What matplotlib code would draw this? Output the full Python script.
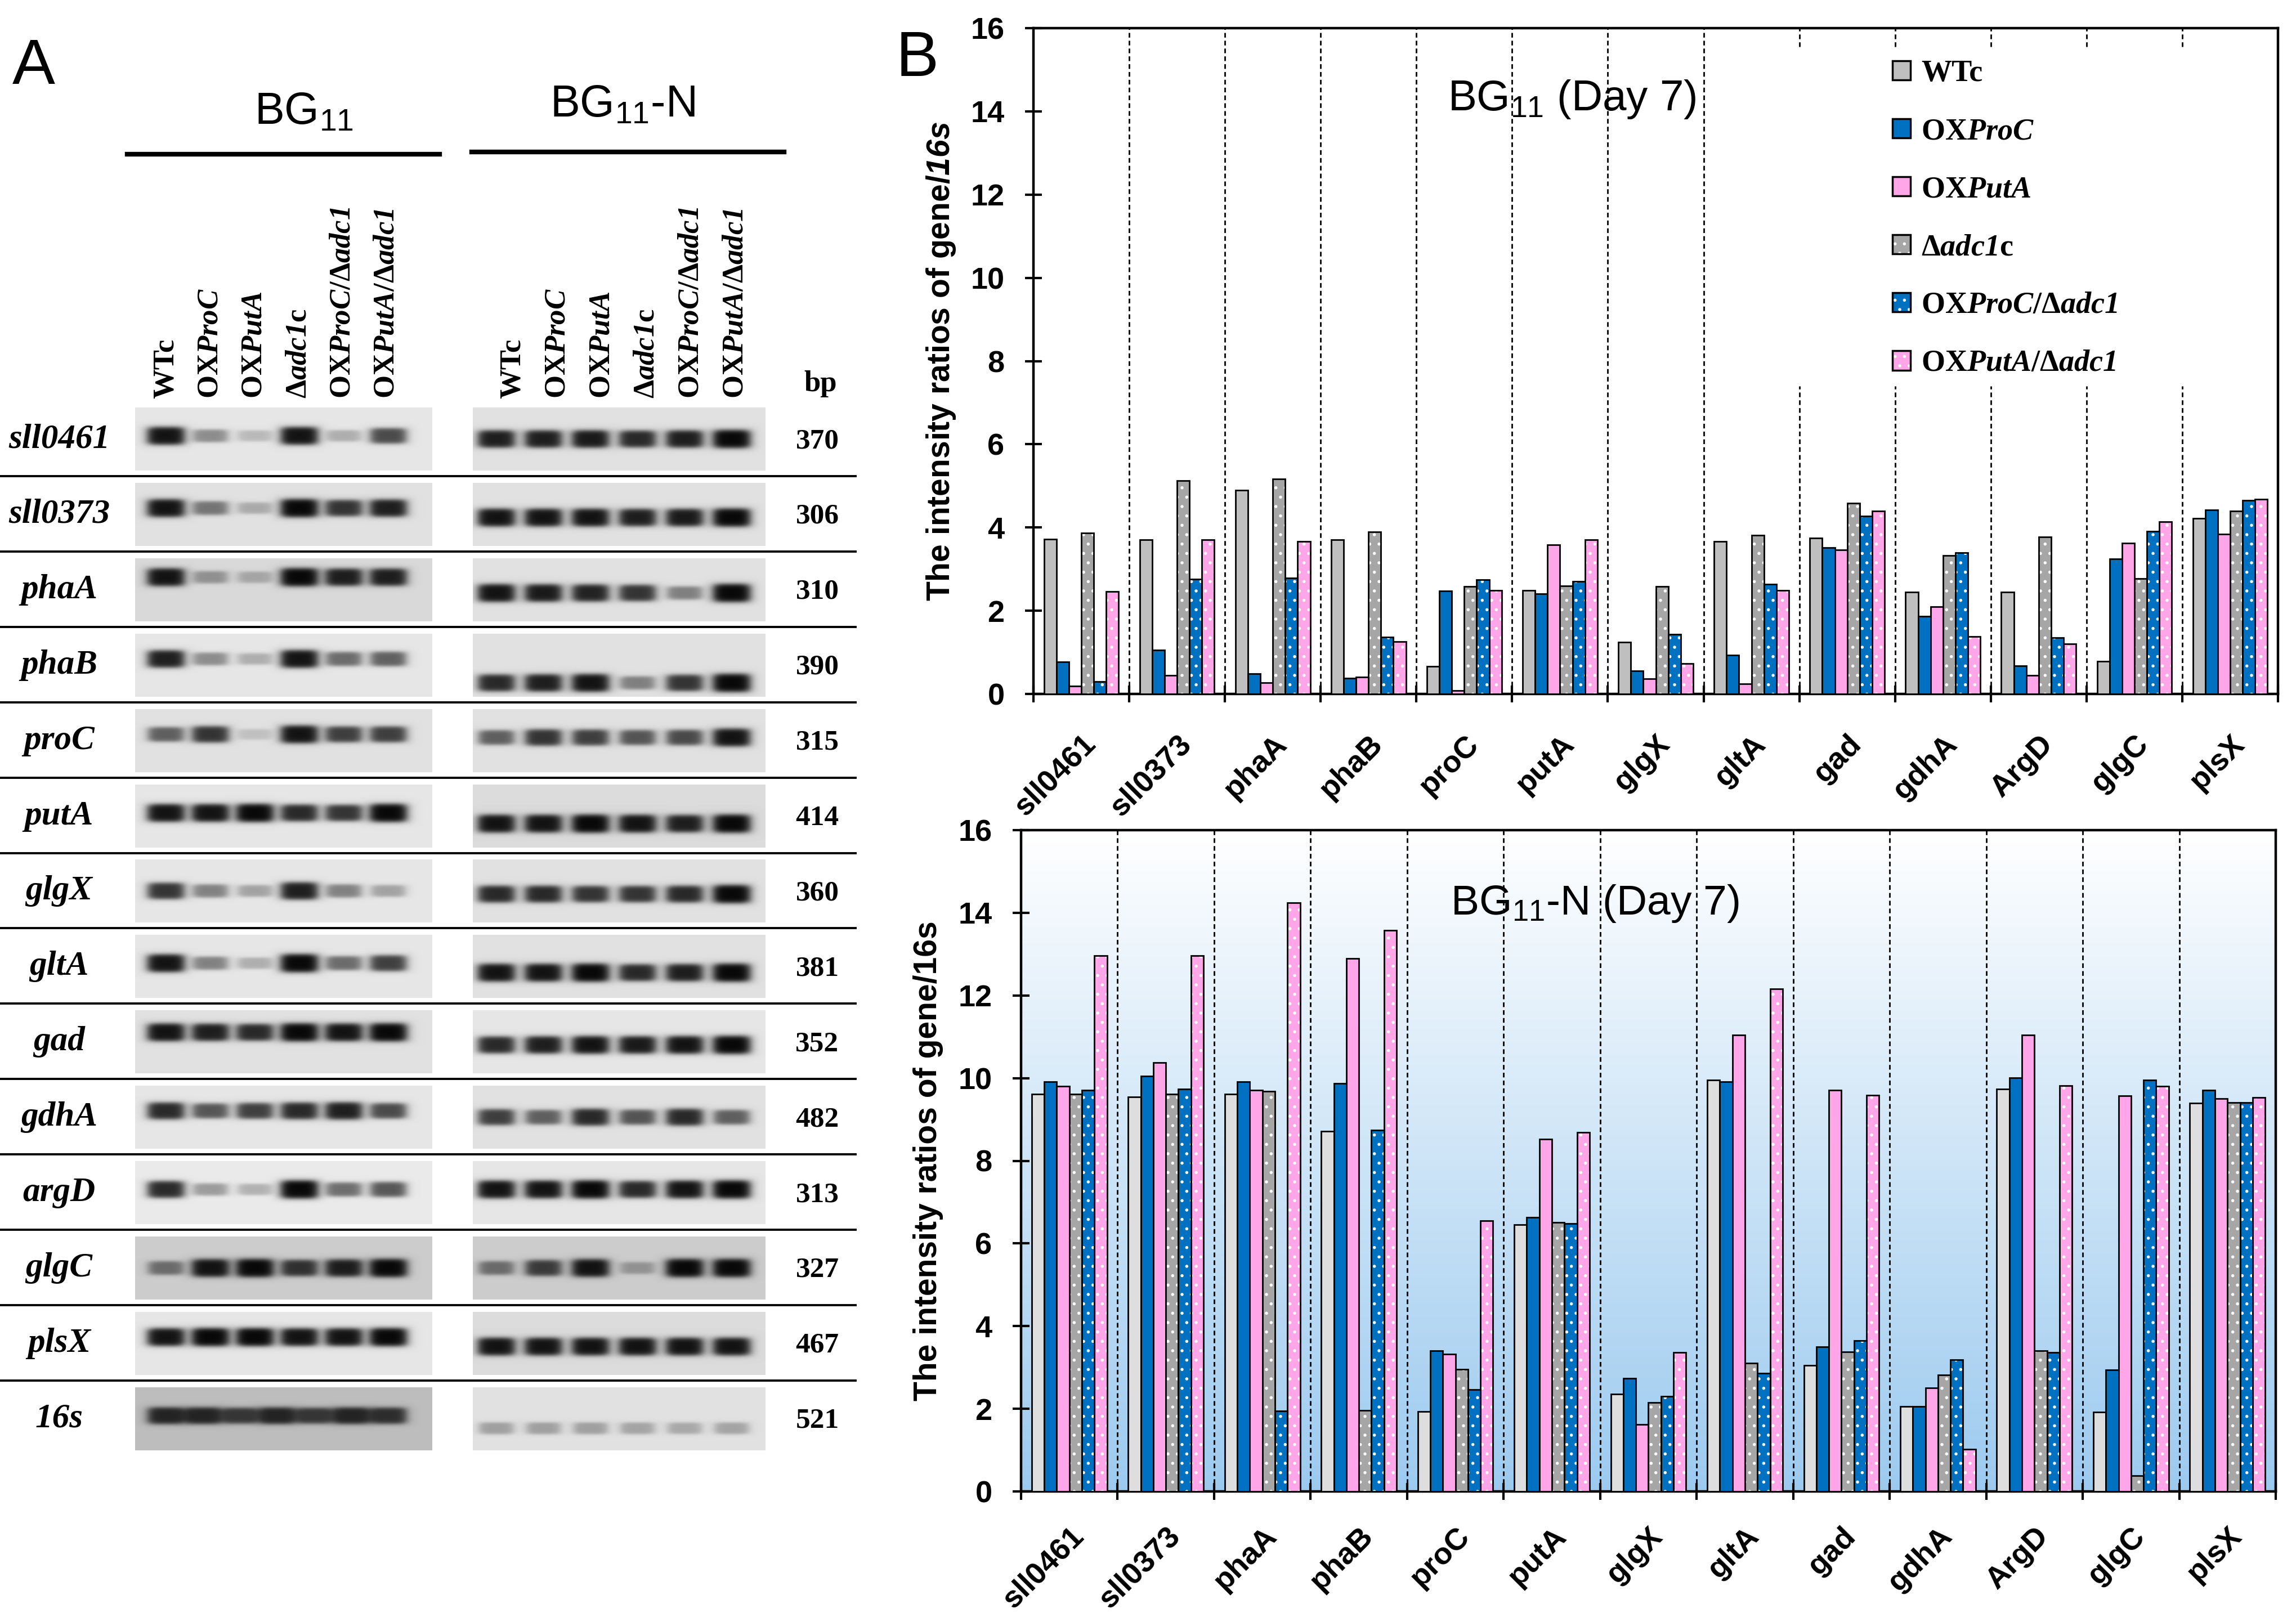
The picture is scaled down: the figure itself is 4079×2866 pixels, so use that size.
import numpy as np
import matplotlib
matplotlib.use('Agg')
import matplotlib.pyplot as plt
from matplotlib.patches import Patch
from matplotlib.legend_handler import HandlerTuple
from matplotlib.colors import LinearSegmentedColormap

plt.rcParams['font.family'] = 'Liberation Sans'
plt.rcParams['mathtext.fontset'] = 'custom'
plt.rcParams['mathtext.rm'] = 'Liberation Sans'
plt.rcParams['mathtext.it'] = 'Liberation Sans:italic'
plt.rcParams['mathtext.bf'] = 'Liberation Serif:bold'
plt.rcParams['mathtext.bfit'] = 'Liberation Serif:italic:bold'
plt.rcParams['mathtext.sf'] = 'Liberation Sans:italic:bold'
plt.rcParams['hatch.linewidth'] = 1.5

# ---------------- data ----------------
genes = ['sll0461', 'sll0373', 'phaA', 'phaB', 'proC', 'putA', 'glgX',
         'gltA', 'gad', 'gdhA', 'ArgD', 'glgC', 'plsX']
strain_labels = ['WTc', 'OX$\\mathbfit{ProC}$', 'OX$\\mathbfit{PutA}$',
                 '$\\mathbf{Δ}\\mathbfit{adc1}$c',
                 'OX$\\mathbfit{ProC}$/$\\mathbf{Δ}\\mathbfit{adc1}$',
                 'OX$\\mathbfit{PutA}$/$\\mathbf{Δ}\\mathbfit{adc1}$']

# BG11 (Day 7)
bg_wtc = [3.72, 3.70, 4.90, 3.70, 0.66, 2.49, 1.25, 3.67, 3.75, 2.45, 2.45, 0.79, 4.22]
bg_oxproc = [0.77, 1.05, 0.49, 0.38, 2.47, 2.41, 0.56, 0.93, 3.52, 1.86, 0.67, 3.24, 4.42]
bg_oxputa = [0.19, 0.45, 0.27, 0.41, 0.08, 3.58, 0.37, 0.24, 3.46, 2.09, 0.45, 3.63, 3.84]
bg_dadc1 = [3.87, 5.12, 5.16, 3.89, 2.58, 2.60, 2.58, 3.82, 4.59, 3.33, 3.78, 2.77, 4.39]
bg_proc_dadc1 = [0.30, 2.76, 2.79, 1.36, 2.74, 2.71, 1.43, 2.64, 4.27, 3.39, 1.35, 3.91, 4.65]
bg_puta_dadc1 = [2.46, 3.70, 3.67, 1.26, 2.49, 3.70, 0.73, 2.49, 4.39, 1.38, 1.21, 4.14, 4.68]

# BG11-N (Day 7)
n_wtc = [9.61, 9.54, 9.61, 8.72, 1.93, 6.45, 2.35, 9.95, 3.05, 2.06, 9.73, 1.92, 9.40]
n_oxproc = [9.91, 10.05, 9.92, 9.87, 3.40, 6.63, 2.74, 9.92, 3.50, 2.06, 10.01, 2.94, 9.71]
n_oxputa = [9.80, 10.38, 9.71, 12.89, 3.32, 8.52, 1.62, 11.05, 9.71, 2.51, 11.05, 9.57, 9.50]
n_dadc1 = [9.61, 9.61, 9.68, 1.96, 2.95, 6.51, 2.15, 3.10, 3.38, 2.82, 3.40, 0.38, 9.41]
n_proc_dadc1 = [9.71, 9.73, 1.95, 8.74, 2.47, 6.48, 2.30, 2.86, 3.65, 3.18, 3.36, 9.95, 9.41]
n_puta_dadc1 = [12.96, 12.96, 14.24, 13.57, 6.55, 8.69, 3.37, 12.16, 9.59, 1.02, 9.82, 9.81, 9.53]

# gel panel: relative band strength per lane (0 = none, 1 = saturated)
gel_genes = ['sll0461', 'sll0373', 'phaA', 'phaB', 'proC', 'putA', 'glgX',
             'gltA', 'gad', 'gdhA', 'argD', 'glgC', 'plsX', '16s']
gel_bp = ['370', '306', '310', '390', '315', '414', '360', '381', '352',
          '482', '313', '327', '467', '521']
gel_bg11 = [[0.95, 0.40, 0.20, 0.95, 0.25, 0.70],
            [0.95, 0.50, 0.25, 1.00, 0.80, 0.90],
            [0.95, 0.35, 0.25, 1.00, 0.90, 0.90],
            [0.90, 0.40, 0.25, 0.95, 0.55, 0.60],
            [0.60, 0.80, 0.15, 0.95, 0.75, 0.75],
            [0.95, 0.95, 1.00, 0.85, 0.80, 1.00],
            [0.80, 0.45, 0.30, 0.90, 0.45, 0.30],
            [0.95, 0.45, 0.25, 1.00, 0.55, 0.75],
            [0.95, 0.90, 0.85, 1.00, 0.95, 1.00],
            [0.85, 0.65, 0.75, 0.85, 0.90, 0.70],
            [0.85, 0.35, 0.25, 1.00, 0.55, 0.65],
            [0.50, 0.95, 1.00, 0.80, 0.90, 1.00],
            [0.95, 1.00, 1.00, 0.95, 0.95, 1.00],
            [0.85, 0.85, 0.75, 0.85, 0.75, 0.85, 0.80]]
gel_n = [[0.90, 0.90, 0.92, 0.85, 0.90, 1.00],
         [0.95, 0.95, 0.95, 0.90, 0.92, 1.00],
         [0.95, 0.92, 0.88, 0.80, 0.45, 1.00],
         [0.85, 0.90, 0.95, 0.45, 0.80, 1.00],
         [0.60, 0.80, 0.75, 0.65, 0.70, 0.95],
         [0.95, 0.95, 1.00, 0.95, 0.90, 1.00],
         [0.85, 0.85, 0.80, 0.80, 0.85, 1.00],
         [0.95, 0.95, 1.00, 0.85, 0.90, 1.00],
         [0.85, 0.90, 0.95, 0.92, 0.95, 1.00],
         [0.75, 0.60, 0.85, 0.65, 0.85, 0.60],
         [0.95, 0.95, 1.00, 0.85, 0.95, 1.00],
         [0.50, 0.75, 0.95, 0.30, 1.00, 1.00],
         [0.95, 0.95, 0.95, 0.95, 0.95, 0.95],
         [0.30, 0.30, 0.30, 0.28, 0.26, 0.28]]

# ---------------- style ----------------
W, H = 4080, 2866
c_grey, c_grey_light, c_dgrey = '#bfbfbf', '#dedede', '#a6a6a6'
c_blue, c_pink = '#0070c0', '#ffa6e9'
dotted = [False, False, False, True, True, True]
gel_shade_bg11 = [0.90, 0.88, 0.85, 0.90, 0.88, 0.90, 0.90, 0.90, 0.88, 0.90, 0.92, 0.80, 0.90, 0.74]
gel_shade_n = [0.88, 0.88, 0.88, 0.88, 0.88, 0.86, 0.88, 0.88, 0.90, 0.88, 0.90, 0.80, 0.86, 0.88]
band_frac_bg11 = [0.45, 0.40, 0.30, 0.40, 0.40, 0.45, 0.50, 0.45, 0.35, 0.40, 0.45, 0.50, 0.40, 0.45]
band_frac_n = [0.50, 0.55, 0.55, 0.78, 0.45, 0.62, 0.55, 0.60, 0.55, 0.50, 0.45, 0.50, 0.55, 0.65]

fig = plt.figure(figsize=(W / 100, H / 100), dpi=100)


def fx(px):
    return px / W


def fy(py):
    return 1 - py / H


# ---------------- panel A (gels) ----------------
axA = fig.add_axes([0, 0, 1, 1])
axA.patch.set_visible(False)


def gel_image(levels, w, h, centers, band_y, shade):
    yy, xx = np.mgrid[0:h, 0:w] + 0.5
    img = np.full((h, w), shade)
    for cx, lv in zip(centers, levels):
        hw = 29 + 4 * lv
        hh = 8 + 8 * lv
        r = ((np.abs(xx - cx) / hw) ** 4 + (np.abs(yy - band_y) / hh) ** 4) ** 0.25
        f = 1 / (1 + np.exp((r - 1) / 0.15))
        img = img - lv * (shade - 0.03) * f
    return np.clip(img, 0, 1)


gel_h = 112
row_y0, row_step = 776, 133.9
for i, gene in enumerate(gel_genes):
    yc = row_y0 + i * row_step
    top = yc - 52
    for (x0, x1, m0, m1), levels, shade, frac in [
            ((240, 768, 55, 78), gel_bg11[i], gel_shade_bg11[i], band_frac_bg11[i]),
            ((840, 1360, 42, 60), gel_n[i], gel_shade_n[i], band_frac_n[i])]:
        w = x1 - x0
        centers = np.linspace(m0, w - m1, len(levels))
        img = gel_image(levels, w, gel_h, centers, frac * gel_h, shade)
        axA.imshow(img, cmap='gray', vmin=0, vmax=1, aspect='auto',
                   extent=(x0, x1, top + gel_h, top), origin='upper',
                   interpolation='bilinear')
    axA.text(105, yc + 4, gene, ha='center', va='center', family='Liberation Serif',
             style='italic', weight='bold', fontsize=44)
    axA.text(1452, yc + 8, gel_bp[i], ha='center', va='center', family='Liberation Serif',
             weight='bold', fontsize=37)
    if i < len(gel_genes) - 1:
        axA.plot([0, 1520], [yc + 70, yc + 70], color='black', lw=2.8)

lane_bg11 = np.linspace(295, 687, 6)
lane_n = np.linspace(911, 1307, 6)
for xs in (lane_bg11, lane_n):
    for xl, lab in zip(xs, strain_labels):
        axA.text(xl, 708, lab, rotation=90, ha='center', va='bottom',
                 family='Liberation Serif', weight='bold', fontsize=38)
axA.text(1458, 682, 'bp', ha='center', va='center', family='Liberation Serif',
         weight='bold', fontsize=38)
axA.plot([226, 781], [274, 274], color='black', lw=6)
axA.plot([838, 1393], [270, 270], color='black', lw=6)
axA.text(540, 200, 'BG$_{11}$', ha='center', va='center', fontsize=57)
axA.text(1106, 187, 'BG$_{11}$-N', ha='center', va='center', fontsize=57)
axA.set_xlim(0, W)
axA.set_ylim(H, 0)
axA.axis('off')

fig.text(fx(60), fy(120), 'A', ha='center', va='center', fontsize=82)
fig.text(fx(1630), fy(106), 'B', ha='center', va='center', fontsize=82)

# ---------------- panel B (bar charts) ----------------
x = np.arange(len(genes))
bw = 0.13


def bar_chart(ax, series, colors, ylab, pad_x, gap=None):
    for k, (vals, col, dot) in enumerate(zip(series, colors, dotted)):
        pos = x + (k - 2.5) * bw
        if dot:
            ax.bar(pos, vals, bw, color=col, edgecolor='white', linewidth=0,
                   hatch='.', zorder=3)
            ax.bar(pos, vals, bw, facecolor='none', edgecolor='black', linewidth=2, zorder=4)
        else:
            ax.bar(pos, vals, bw, color=col, edgecolor='black', linewidth=2, zorder=3)
    for b in x[:-1] + 0.5:
        if gap is not None and b > gap[2]:
            ax.plot([b, b], [0, gap[0]], color='black', lw=2, ls=(0, (3, 2)), zorder=2)
            ax.plot([b, b], [gap[1], 16], color='black', lw=2, ls=(0, (3, 2)), zorder=2)
        else:
            ax.plot([b, b], [0, 16], color='black', lw=2, ls=(0, (3, 2)), zorder=2)
    ax.set_xlim(-0.5, len(genes) - 0.5)
    ax.set_ylim(0, 16)
    ax.set_yticks(np.arange(0, 17, 2))
    ax.set_xticks(np.arange(-0.5, len(genes)), labels=[])
    ax.set_xticks(x, labels=genes, minor=True)
    ax.tick_params(axis='y', direction='inout', length=22, width=3, pad=26, labelsize=39)
    ax.tick_params(axis='x', which='major', direction='inout', length=22, width=3)
    ax.tick_params(axis='x', which='minor', length=0, pad=pad_x, labelsize=39)
    for lbl in ax.get_xticklabels(minor=True):
        lbl.set_rotation(45)
        lbl.set_ha('right')
        lbl.set_rotation_mode('anchor')
        lbl.set_fontweight('bold')
    for lbl in ax.get_yticklabels():
        lbl.set_fontweight('bold')
    for sp in ax.spines.values():
        sp.set_linewidth(3.2)
    ax.set_ylabel(ylab, fontsize=41, fontweight='bold')
    ax.yaxis.set_label_coords(-0.074, 0.5)
    ax.yaxis.label.set_va('center')


ax1 = fig.add_axes([fx(1836), fy(1233), fx(4047 - 1836), (1233 - 50) / H])
bar_chart(ax1, [bg_wtc, bg_oxproc, bg_oxputa, bg_dadc1, bg_proc_dadc1, bg_puta_dadc1],
          [c_grey, c_blue, c_pink, c_dgrey, c_blue, c_pink],
          'The intensity ratios of gene/$\\mathsf{16s}$', 46, gap=(7.4, 15.55, 7))

handles = []
for col, dot in zip([c_grey, c_blue, c_pink, c_dgrey, c_blue, c_pink], dotted):
    if dot:
        handles.append((Patch(facecolor=col, edgecolor='white', linewidth=0, hatch='.'),
                        Patch(facecolor='none', edgecolor='black', linewidth=2.5)))
    else:
        handles.append(Patch(facecolor=col, edgecolor='black', linewidth=2.5))
ax1.legend(handles, strain_labels, handler_map={tuple: HandlerTuple(ndivide=1)},
           loc='upper left', bbox_to_anchor=(fx(3362), fy(106)), bbox_transform=fig.transFigure,
           frameon=False, prop=dict(family='Liberation Serif', weight='bold', size=39),
           handlelength=0.6, handleheight=0.6, handletextpad=0.35, labelspacing=0.98,
           borderaxespad=0, borderpad=0)
fig.text(fx(2572), fy(177), 'BG$_{11}$ (Day 7)', ha='left', va='center', fontsize=55)

ax2 = fig.add_axes([fx(1814), fy(2650), fx(4043 - 1814), (2650 - 1475) / H])
grad = np.linspace(0, 1, 256)[:, None]
fade = LinearSegmentedColormap.from_list('fade', ['#ffffff', '#9ccaef'])
ax2.imshow(grad, cmap=fade, extent=(-0.5, len(genes) - 0.5, 0, 16), aspect='auto',
           origin='upper', zorder=0)
bar_chart(ax2, [n_wtc, n_oxproc, n_oxputa, n_dadc1, n_proc_dadc1, n_puta_dadc1],
          [c_grey_light, c_blue, c_pink, c_dgrey, c_blue, c_pink],
          'The intensity ratios of gene/16s', 39)
fig.text(fx(2577), fy(1606), 'BG$_{11}$-N (Day 7)', ha='left', va='center', fontsize=54)

fig.savefig('out.png', dpi=100)
